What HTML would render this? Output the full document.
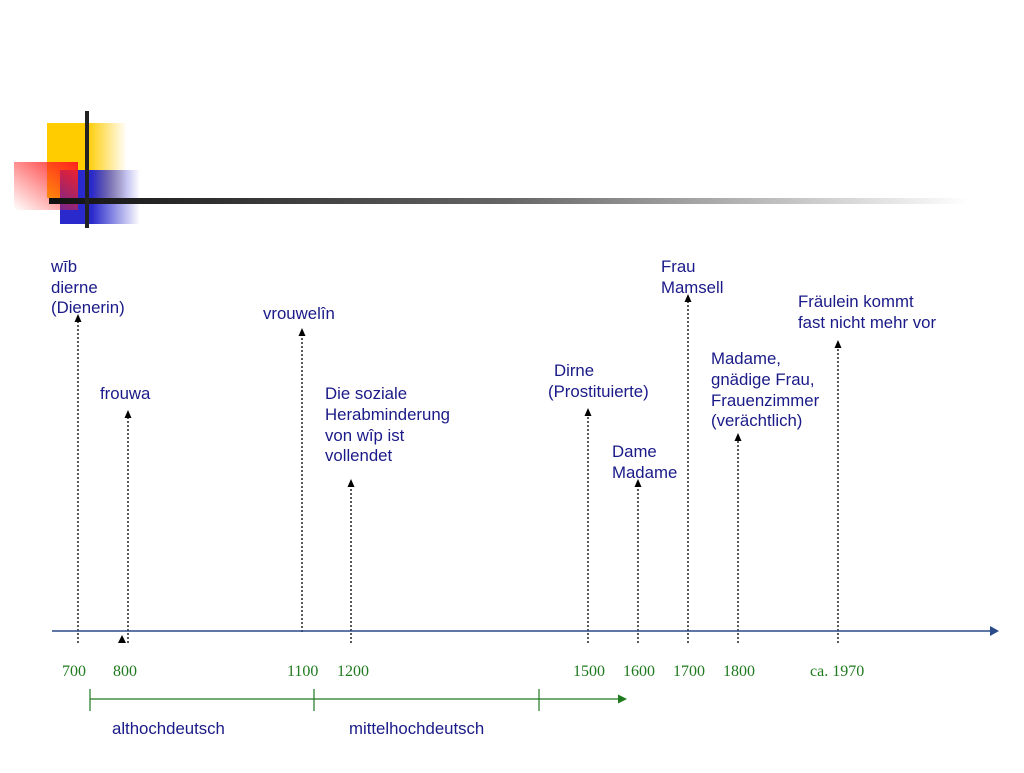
<!DOCTYPE html>
<html><head><meta charset="utf-8"><style>
body{margin:0;background:#fff}
svg text{font-family:"Liberation Sans",sans-serif;font-size:16.8px;fill:#1a1a88}
svg text.y{font-family:"Liberation Serif",serif;font-size:16px;fill:#1f7a1f}
</style></head><body>
<svg width="1024" height="768" viewBox="0 0 1024 768">
<defs>
<linearGradient id="gy" x1="0" x2="1"><stop offset="0.5" stop-color="#ffcc00"/><stop offset="1" stop-color="#ffcc00" stop-opacity="0"/></linearGradient>
<linearGradient id="gb" x1="0" x2="1"><stop offset="0.4" stop-color="#2a2acc"/><stop offset="1" stop-color="#2a2acc" stop-opacity="0"/></linearGradient>
<linearGradient id="gr" x1="1" y1="0" x2="0" y2="1"><stop offset="0" stop-color="#ff2020"/><stop offset="1" stop-color="#ff2020" stop-opacity="0"/></linearGradient>
<linearGradient id="gl" x1="0" x2="1"><stop offset="0" stop-color="#111"/><stop offset="0.5" stop-color="#666"/><stop offset="1" stop-color="#fff"/></linearGradient>
</defs>
<rect x="47" y="123" width="80" height="75" fill="url(#gy)"/>
<rect x="60" y="170" width="80" height="54" fill="url(#gb)"/>
<rect x="14" y="162" width="64" height="48" fill="url(#gr)"/>
<rect x="49" y="198" width="920" height="6" fill="url(#gl)"/>
<rect x="85" y="111" width="4" height="117" fill="#222"/>
<g stroke="#000" stroke-width="1.3" stroke-dasharray="2,2">
<line x1="78" y1="643" x2="78" y2="322"/>
<line x1="128" y1="643" x2="128" y2="418"/>
<line x1="302" y1="632" x2="302" y2="336"/>
<line x1="351" y1="643" x2="351" y2="487"/>
<line x1="588" y1="643" x2="588" y2="416"/>
<line x1="638" y1="643" x2="638" y2="487"/>
<line x1="688" y1="643" x2="688" y2="302"/>
<line x1="738" y1="643" x2="738" y2="441"/>
<line x1="838" y1="643" x2="838" y2="348"/>
</g>
<g fill="#000">
<path d="M78,314l-3.5,8h7z"/><path d="M128,410l-3.5,8h7z"/><path d="M302,328l-3.5,8h7z"/>
<path d="M351,479l-3.5,8h7z"/><path d="M588,408l-3.5,8h7z"/><path d="M638,479l-3.5,8h7z"/>
<path d="M688,294l-3.5,8h7z"/><path d="M738,433l-3.5,8h7z"/><path d="M838,340l-3.5,8h7z"/>
<path d="M122,635l-4,8h8z"/>
</g>
<line x1="52" y1="631" x2="992" y2="631" stroke="#2a4a8a" stroke-width="1.5"/>
<path d="M999,631l-9,-5v10z" fill="#2a4a8a"/>
<g stroke="#1f7a1f" stroke-width="1.2">
<line x1="90" y1="699" x2="620" y2="699"/><line x1="90" y1="689" x2="90" y2="711"/>
<line x1="314" y1="689" x2="314" y2="711"/><line x1="539" y1="689" x2="539" y2="711"/>
</g>
<path d="M627,699l-9,-4.5v9z" fill="#1f7a1f"/>
<text class="y" x="62" y="676">700</text><text class="y" x="113" y="676">800</text>
<text class="y" x="287" y="676">1100</text><text class="y" x="337" y="676">1200</text>
<text class="y" x="573" y="676">1500</text><text class="y" x="623" y="676">1600</text>
<text class="y" x="673" y="676">1700</text><text class="y" x="723" y="676">1800</text>
<text class="y" x="810" y="676">ca. 1970</text>
<text x="112" y="734">althochdeutsch</text><text x="349" y="734">mittelhochdeutsch</text>
<text x="51" y="272">wīb</text><text x="51" y="293">dierne</text><text x="51" y="313">(Dienerin)</text>
<text x="100" y="399">frouwa</text>
<text x="263" y="319">vrouwelîn</text>
<text x="325" y="399">Die soziale</text><text x="325" y="420">Herabminderung</text><text x="325" y="441">von wîp ist</text><text x="325" y="461">vollendet</text>
<text x="554" y="376">Dirne</text><text x="548" y="397">(Prostituierte)</text>
<text x="612" y="457">Dame</text><text x="612" y="478">Madame</text>
<text x="661" y="272">Frau</text><text x="661" y="293">Mamsell</text>
<text x="711" y="364">Madame,</text><text x="711" y="385">gnädige Frau,</text><text x="711" y="406">Frauenzimmer</text><text x="711" y="426">(verächtlich)</text>
<text x="798" y="307">Fräulein kommt</text><text x="798" y="328">fast nicht mehr vor</text>
</svg>
</body></html>
